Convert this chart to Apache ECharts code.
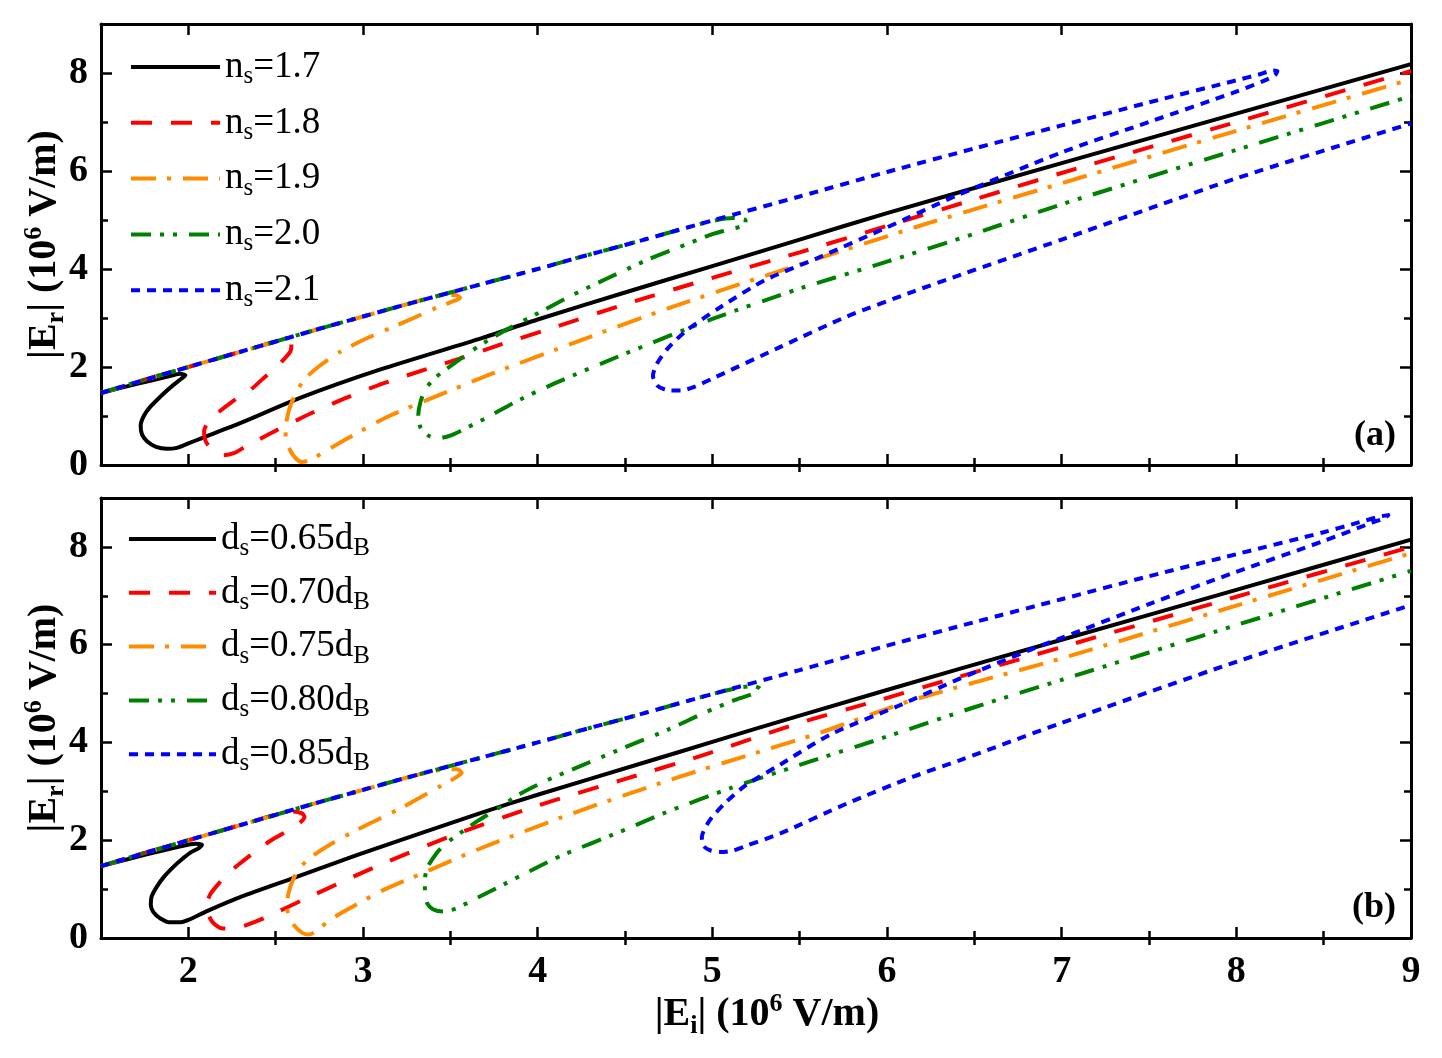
<!DOCTYPE html>
<html>
<head>
<meta charset="utf-8">
<script src="https://cdn.jsdelivr.net/npm/echarts@6.0.0/dist/echarts.min.js"></script>
<style>
html,body{margin:0;padding:0;background:#fff;}
#chart{width:1442px;height:1058px;}
</style>
</head>
<body>
<div id="chart"></div>
<script>
// ---------------- data ----------------
const namesA = ['n_s=1.7', 'n_s=1.8', 'n_s=1.9', 'n_s=2.0', 'n_s=2.1'];
const namesB = ['d_s=0.65d_B', 'd_s=0.70d_B', 'd_s=0.75d_B', 'd_s=0.80d_B', 'd_s=0.85d_B'];
const xMajorTicks = [2, 3, 4, 5, 6, 7, 8, 9];
const xMinorTicks = [2.5, 3.5, 4.5, 5.5, 6.5, 7.5, 8.5];
const yMajorTicks = [0, 2, 4, 6, 8];
const yMinorTicks = [1, 3, 5, 7];

// shared upper branch (all curves follow it before their upper turning point)
const upperBranch = [[1.5,1.47],[1.75,1.74],[2.0,2.0],[2.25,2.26],[2.5,2.52],[2.75,2.78],[3.0,3.03],[3.25,3.28],[3.5,3.52],[3.75,3.76],[4.0,4.0],[4.25,4.25],[4.5,4.49],[4.75,4.74],[5.0,4.99],[5.5,5.48],[6.0,5.98],[6.5,6.46],[7.0,6.93],[7.5,7.4],[8.0,7.85],[8.5,8.3]];

// panel (a)
const curveA17 = [[1.5,1.47],[1.7,1.65],[1.9,1.82],[1.955,1.86],[1.983,1.83],[1.96,1.76],[1.91,1.62],[1.859,1.46],[1.783,1.19],[1.745,1.0],[1.727,0.8],[1.735,0.62],[1.765,0.48],[1.815,0.37],[1.877,0.33],[1.935,0.35],[2.0,0.44],[2.07,0.54],[2.3,0.86],[2.64,1.37],[3.1,1.95],[3.68,2.59],[4.0,2.97],[4.5,3.52],[5.0,4.06],[5.5,4.6],[6.0,5.14],[7.0,6.16],[8.0,7.17],[9.0,8.18]];
const tailA18 = [[2.55,2.56],[2.59,2.46],[2.583,2.31],[2.507,2.01],[2.43,1.77],[2.354,1.53],[2.25,1.29],[2.164,1.05],[2.11,0.86],[2.09,0.68],[2.1,0.48],[2.14,0.3],[2.2,0.2],[2.26,0.24],[2.32,0.36],[2.5,0.7],[2.7,1.05],[2.91,1.38],[3.12,1.67],[3.35,1.94],[3.57,2.19],[3.79,2.46],[4.06,2.77],[4.5,3.28],[5.0,3.82],[5.5,4.34],[6.0,4.88],[6.5,5.42],[7.0,5.96],[8.0,7.0],[9.0,8.04]];
const tailA19 = [[3.45,3.46],[3.53,3.47],[3.556,3.41],[3.5,3.32],[3.42,3.21],[3.29,3.0],[3.154,2.79],[3.0,2.55],[2.87,2.31],[2.75,2.02],[2.66,1.73],[2.62,1.48],[2.585,1.22],[2.565,0.95],[2.556,0.7],[2.565,0.45],[2.6,0.2],[2.65,0.06],[2.7,0.11],[2.9,0.52],[3.15,1.0],[3.5,1.52],[3.75,1.88],[4.25,2.55],[4.75,3.2],[5.25,3.8],[5.75,4.38],[6.25,4.95],[7.0,5.75],[8.0,6.82],[9.0,7.87]];
const tailA20 = [[5.0,4.98],[5.12,5.04],[5.19,5.0],[5.19,4.91],[5.1,4.81],[5.0,4.71],[4.8,4.43],[4.63,4.19],[4.4,3.81],[4.2,3.47],[3.95,3.0],[3.8,2.72],[3.66,2.42],[3.52,2.07],[3.42,1.8],[3.36,1.56],[3.33,1.3],[3.316,1.0],[3.33,0.76],[3.37,0.61],[3.42,0.54],[3.5,0.6],[3.6,0.77],[3.7,0.95],[3.88,1.3],[4.1,1.67],[4.5,2.27],[5.0,2.98],[5.5,3.6],[6.0,4.15],[6.5,4.72],[7.0,5.32],[8.0,6.43],[9.0,7.53]];
const tailA21 = [[8.13,7.97],[8.21,8.05],[8.235,8.04],[8.22,7.95],[8.15,7.83],[8.0,7.62],[7.5,7.0],[7.0,6.38],[6.4,5.5],[6.0,4.85],[5.6,4.22],[5.3,3.77],[5.05,3.23],[4.85,2.74],[4.74,2.36],[4.68,2.05],[4.66,1.82],[4.685,1.62],[4.74,1.53],[4.82,1.52],[4.9,1.6],[5.01,1.78],[5.39,2.41],[5.77,3.03],[6.15,3.54],[6.42,3.88],[7.0,4.6],[8.0,5.85],[9.0,6.97]];

// panel (b)
const curveB65 = [[1.5,1.47],[1.75,1.7],[1.95,1.87],[2.04,1.93],[2.078,1.91],[2.06,1.84],[2.01,1.74],[1.96,1.6],[1.916,1.46],[1.86,1.25],[1.82,1.05],[1.79,0.85],[1.785,0.68],[1.8,0.53],[1.84,0.4],[1.897,0.32],[1.95,0.32],[2.0,0.37],[2.107,0.55],[2.3,0.84],[2.62,1.25],[2.96,1.69],[3.345,2.16],[3.676,2.56],[4.0,2.93],[4.62,3.6],[5.0,4.01],[5.5,4.55],[6.42,5.51],[7.0,6.1],[8.0,7.12],[9.0,8.15]];
const tailB70 = [[2.6,2.59],[2.65,2.55],[2.665,2.48],[2.64,2.36],[2.583,2.22],[2.47,1.99],[2.38,1.76],[2.297,1.53],[2.23,1.33],[2.183,1.15],[2.13,0.92],[2.108,0.72],[2.112,0.5],[2.14,0.32],[2.19,0.2],[2.25,0.19],[2.32,0.25],[2.43,0.4],[2.68,0.82],[2.9,1.18],[3.1,1.5],[3.5,2.08],[4.01,2.72],[4.47,3.22],[4.93,3.72],[5.5,4.4],[5.96,4.87],[6.38,5.31],[7.0,5.95],[8.0,6.98],[9.0,8.0]];
const tailB75 = [[3.45,3.44],[3.54,3.45],[3.565,3.38],[3.53,3.28],[3.45,3.12],[3.23,2.68],[2.964,2.21],[2.82,1.93],[2.72,1.7],[2.65,1.48],[2.6,1.2],[2.573,0.91],[2.564,0.64],[2.58,0.42],[2.61,0.24],[2.65,0.11],[2.69,0.07],[2.74,0.16],[2.81,0.37],[2.95,0.66],[3.116,0.98],[3.345,1.33],[3.65,1.8],[4.2,2.55],[4.754,3.23],[5.287,3.83],[5.61,4.19],[6.15,4.87],[7.0,5.72],[8.0,6.8],[9.0,7.87]];
const tailB80 = [[5.15,5.12],[5.24,5.15],[5.275,5.09],[5.23,4.99],[5.13,4.87],[4.95,4.6],[4.74,4.25],[4.5,3.9],[4.3,3.6],[4.05,3.22],[3.9,2.95],[3.76,2.62],[3.65,2.38],[3.554,2.14],[3.47,1.92],[3.42,1.73],[3.37,1.45],[3.354,1.19],[3.355,0.93],[3.366,0.72],[3.4,0.59],[3.459,0.54],[3.536,0.61],[3.62,0.76],[3.764,1.02],[3.95,1.36],[4.145,1.7],[4.47,2.17],[4.72,2.55],[5.1,3.06],[5.5,3.54],[6.0,4.12],[6.5,4.72],[7.0,5.28],[8.0,6.4],[9.0,7.51]];
const tailB85 = [[8.7,8.5],[8.82,8.62],[8.87,8.65],[8.85,8.59],[8.78,8.5],[8.5,8.12],[8.0,7.49],[7.5,6.83],[7.0,6.14],[6.81,5.88],[6.42,5.31],[6.06,4.74],[5.68,4.17],[5.39,3.55],[5.19,3.12],[5.07,2.75],[4.98,2.38],[4.94,2.06],[4.95,1.88],[4.99,1.79],[5.05,1.76],[5.12,1.79],[5.19,1.88],[5.39,2.14],[5.77,2.75],[6.15,3.3],[6.42,3.64],[7.0,4.4],[8.0,5.65],[9.0,6.81]];

function withUpper(cutX, tail) {
  return upperBranch.filter(function (p) { return p[0] <= cutX; }).concat(tail);
}

const dataA = [curveA17, withUpper(2.5, tailA18), withUpper(3.25, tailA19), withUpper(4.75, tailA20), withUpper(8.0, tailA21)];
const dataB = [curveB65, withUpper(2.5, tailB70), withUpper(3.25, tailB75), withUpper(5.0, tailB80), withUpper(8.5, tailB85)];

// ---------------- styling ----------------
const FONT = "'Liberation Serif', 'Times New Roman', Times, 'DejaVu Serif', serif";
const colors = ['#000000', '#ff0000', '#ff8c00', '#008000', '#0000ff'];
const dashes = ['solid', [21, 19], [25, 11, 4, 12], [20, 9, 4, 9, 4, 12], [9, 7]];

const titleRich = {
  sub: { fontFamily: FONT, fontWeight: 'bold', fontSize: 26, lineHeight: 20, verticalAlign: 'bottom', color: '#000' },
  sup: { fontFamily: FONT, fontWeight: 'bold', fontSize: 26, lineHeight: 30, verticalAlign: 'top', color: '#000' }
};
const nameStyle = { fontFamily: FONT, fontWeight: 'bold', fontSize: 40, color: '#000', lineHeight: 48, rich: titleRich };

const tickLine = { color: '#000', width: 2.5 };
const frameLine = { show: true, onZero: false, lineStyle: { color: '#000', width: 3 } };

function xAxesFor(g, withLabels) {
  const base = { type: 'value', gridIndex: g, min: 1.5, max: 9, interval: 0.5, splitLine: { show: false } };
  const major = { show: true, inside: true, length: 11, customValues: xMajorTicks, lineStyle: tickLine };
  const minor = { show: true, inside: true, length: 7, customValues: xMinorTicks, lineStyle: tickLine };
  return [
    Object.assign({}, base, {
      position: 'bottom', axisLine: frameLine, axisTick: major,
      axisLabel: { show: withLabels, customValues: xMajorTicks, margin: 15, color: '#000', fontFamily: FONT, fontWeight: 'bold', fontSize: 38 },
      name: withLabels ? '|E{sub|i}| (10{sup|6} V/m)' : '', nameLocation: 'middle', nameGap: 53, nameMoveOverlap: false,
      nameTextStyle: Object.assign({}, nameStyle, { padding: [0, 0, 0, 22] })
    }),
    Object.assign({}, base, { position: 'bottom', axisLine: { show: false }, axisTick: minor, axisLabel: { show: false } }),
    Object.assign({}, base, { position: 'top', axisLine: frameLine, axisTick: major, axisLabel: { show: false } }),
    Object.assign({}, base, { position: 'top', axisLine: { show: false }, axisTick: minor, axisLabel: { show: false } })
  ];
}

function yAxesFor(g) {
  const base = { type: 'value', gridIndex: g, min: 0, max: 9, interval: 1, splitLine: { show: false } };
  const major = { show: true, inside: true, length: 11, customValues: yMajorTicks, lineStyle: tickLine };
  const minor = { show: true, inside: true, length: 7, customValues: yMinorTicks, lineStyle: tickLine };
  return [
    Object.assign({}, base, {
      position: 'left', axisLine: frameLine, axisTick: major,
      axisLabel: { show: true, customValues: yMajorTicks, margin: 13, color: '#000', fontFamily: FONT, fontWeight: 'bold', fontSize: 38 },
      name: '|E{sub|r}| (10{sup|6} V/m)', nameLocation: 'middle', nameRotate: 90, nameGap: 32, nameMoveOverlap: false,
      nameTextStyle: nameStyle
    }),
    Object.assign({}, base, { position: 'left', axisLine: { show: false }, axisTick: minor, axisLabel: { show: false } }),
    Object.assign({}, base, { position: 'right', axisLine: frameLine, axisTick: major, axisLabel: { show: false } }),
    Object.assign({}, base, { position: 'right', axisLine: { show: false }, axisTick: minor, axisLabel: { show: false } })
  ];
}

const legendText = {
  fontFamily: FONT, fontSize: 37, color: '#000', lineHeight: 44,
  rich: { s: { fontFamily: FONT, fontSize: 25, lineHeight: 18, verticalAlign: 'bottom', color: '#000' } }
};
function legendFmt(name) { return name.replace(/_(\w)/g, '{s|$1}'); }

function makeSeries(names, data, g) {
  return names.map(function (n, i) {
    return {
      name: n, type: 'line', xAxisIndex: g * 4, yAxisIndex: g * 4,
      data: data[i], symbol: 'none', smooth: 0.25, clip: true,
      lineStyle: { color: colors[i], width: 4, type: dashes[i], cap: 'butt', join: 'round' },
      itemStyle: { color: colors[i] },
      emphasis: { disabled: true }
    };
  });
}

const chart = echarts.init(document.getElementById('chart'), null, { renderer: 'canvas' });
chart.setOption({
  backgroundColor: '#fff',
  animation: false,
  grid: [
    { left: 101, top: 24, width: 1310, height: 441 },
    { left: 101, top: 498, width: 1310, height: 440 }
  ],
  xAxis: xAxesFor(0, false).concat(xAxesFor(1, true)),
  yAxis: yAxesFor(0).concat(yAxesFor(1)),
  title: [
    { text: '(a)', left: 1354, top: 416, padding: 0, textStyle: { fontFamily: FONT, fontWeight: 'bold', fontSize: 36, color: '#000', lineHeight: 40 } },
    { text: '(b)', left: 1352, top: 888, padding: 0, textStyle: { fontFamily: FONT, fontWeight: 'bold', fontSize: 36, color: '#000', lineHeight: 40 } }
  ],
  legend: [
    { data: namesA, orient: 'vertical', left: 129, top: 45, padding: 0, itemWidth: 89, itemHeight: 14, itemGap: 11.8,
      formatter: legendFmt, textStyle: legendText, itemStyle: { opacity: 0 }, lineStyle: { width: 4 }, selectedMode: false },
    { data: namesB, orient: 'vertical', left: 127, top: 517, padding: 0, itemWidth: 87, itemHeight: 14, itemGap: 9.8,
      formatter: legendFmt, textStyle: legendText, itemStyle: { opacity: 0 }, lineStyle: { width: 4 }, selectedMode: false }
  ],
  series: makeSeries(namesA, dataA, 0).concat(makeSeries(namesB, dataB, 1))
});
</script>
</body>
</html>
